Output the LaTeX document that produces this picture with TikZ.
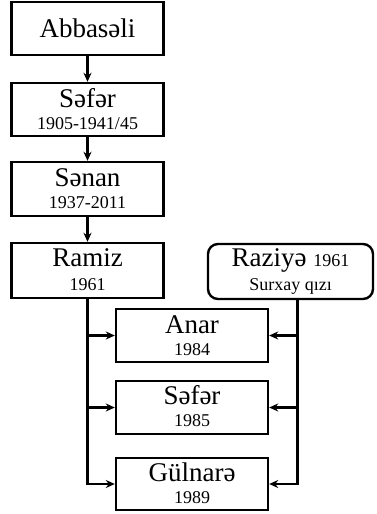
\documentclass[tikz,border=0pt]{standalone}
\usepackage{fontspec}
\setmainfont{Liberation Serif}
\usetikzlibrary{arrows.meta}

\tikzset{
  box/.style={draw, line width=2.4pt, minimum width=152pt, minimum height=53pt, inner sep=0pt},
  rbox/.style={box, rounded corners=10pt, minimum width=165pt, minimum height=55pt},
  namet/.style={anchor=base, inner sep=0pt, font=\fontsize{27}{30}\selectfont},
  yeart/.style={anchor=base, inner sep=0pt, font=\fontsize{18}{21}\selectfont},
  arr/.style={line width=2.2pt, -{Stealth[length=9pt,width=8pt]}}
}

\begin{document}
\begin{tikzpicture}[x=1pt, y=-1pt]
  \useasboundingbox (0,0) rectangle (376,514);

  % ata xetti
  \node[box] (abbas) at (87.5,28.5) {};
  \node[box] (sefer) at (87.5,109.5) {};
  \node[box, minimum height=54pt] (senan) at (87.5,189) {};
  \node[box, minimum height=55pt] (ramiz) at (87.5,270.5) {};
  \node[rbox] (raziye) at (290.5,271.5) {};

  \node[namet] (abbasn) at ([yshift=-37pt]abbas.north) {Abbasəli};
  \node[namet] (sefern) at ([yshift=-26pt]sefer.north) {Səfər};
  \node[yeart] (sefery) at ([yshift=-48pt]sefer.north) {1905-1941/45};
  \node[namet] (senann) at ([yshift=-26pt]senan.north) {Sənan};
  \node[yeart] (senany) at ([yshift=-48pt]senan.north) {1937-2011};
  \node[namet] (ramizn) at ([yshift=-25pt]ramiz.north) {Ramiz};
  \node[yeart] (ramizy) at ([yshift=-49pt]ramiz.north) {1961};
  \node[namet] (raziyen) at ([yshift=-24pt]raziye.north) {Raziyə {\fontsize{18}{21}\selectfont 1961}};
  \node[yeart] (raziyey) at ([yshift=-48pt]raziye.north) {Surxay qızı};

  % usaqlar
  \node[box] (anar) at (192,335.5) {};
  \node[box] (sefer2) at (192,407.5) {};
  \node[box, minimum height=52pt] (gulnare) at (192,484) {};

  \node[namet] (anarn) at ([yshift=-26pt]anar.north) {Anar};
  \node[yeart] (anary) at ([yshift=-48pt]anar.north) {1984};
  \node[namet] (sefer2n) at ([yshift=-25pt]sefer2.north) {Səfər};
  \node[yeart] (sefer2y) at ([yshift=-47pt]sefer2.north) {1985};
  \node[namet] (gulnaren) at ([yshift=-25pt]gulnare.north) {Gülnarə};
  \node[yeart] (gulnarey) at ([yshift=-47pt]gulnare.north) {1989};

  \draw[arr] (abbas) -- (sefer);
  \draw[arr] (sefer) -- (senan);
  \draw[arr] (senan) -- (ramiz);

  \draw[arr] (ramiz.south) |- (gulnare.west);
  \draw[arr] (ramiz.south |- anar.west) -- (anar.west);
  \draw[arr] (ramiz.south |- sefer2.west) -- (sefer2.west);

  \coordinate (rbus) at ([xshift=7pt]raziye.south);
  \draw[arr] (rbus) |- (gulnare.east);
  \draw[arr] (rbus |- anar.east) -- (anar.east);
  \draw[arr] (rbus |- sefer2.east) -- (sefer2.east);
\end{tikzpicture}
\end{document}
